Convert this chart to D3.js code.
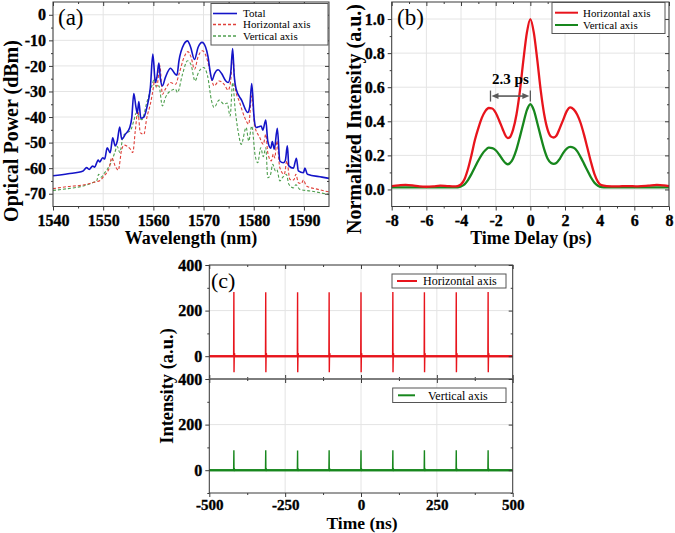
<!DOCTYPE html>
<html><head><meta charset="utf-8">
<script src="https://cdn.jsdelivr.net/npm/d3@7"></script>
<style>body{margin:0;background:#fff}svg{display:block}</style>
</head><body>
<svg id="chart" width="675" height="533"></svg>
<script>
// ---------------- DATA ----------------
// (a) optical spectra: [wavelength nm, power dBm]
const spectrumTotal = [[1540,-63],[1543,-62.2],[1546,-61.1],[1546.7,-59.8],[1547.2,-60.5],[1547.9,-59.2],[1548.3,-59.6],[1548.7,-57.9],[1549,-56.8],[1549.3,-57.6],[1549.9,-55.9],[1550.3,-56.4],[1550.8,-52],[1551.4,-54],[1551.9,-48.1],[1552.4,-51.3],[1552.8,-49.5],[1553.3,-43.9],[1553.7,-48.7],[1554.4,-46.8],[1555.3,-44.1],[1555.7,-40.2],[1556.1,-30.8],[1556.5,-35.7],[1556.8,-38.5],[1557.1,-33.9],[1557.5,-40.5],[1558.1,-40],[1558.7,-36.3],[1559.4,-28.5],[1559.9,-15.4],[1560.4,-26.5],[1560.7,-24.5],[1561.1,-18.9],[1561.4,-25],[1561.8,-27.8],[1562.4,-24.5],[1563.4,-20.9],[1564.4,-23.3],[1564.7,-23.6],[1565.1,-18],[1566.1,-11.5],[1566.8,-10.2],[1567.4,-12.5],[1568.2,-17.5],[1568.9,-12.8],[1569.7,-10.8],[1570.4,-12.6],[1570.9,-16.5],[1571.3,-22],[1571.7,-25.6],[1572.2,-23],[1572.9,-21.5],[1573.6,-23],[1574.4,-25.8],[1574.9,-26.5],[1575.4,-23],[1575.8,-13.2],[1576.1,-23.5],[1576.5,-29.1],[1577.6,-33.5],[1578.8,-38.2],[1579.2,-36],[1579.6,-26.9],[1580.1,-40.9],[1580.5,-44.1],[1581,-43.8],[1581.5,-43.5],[1581.8,-45.2],[1582.4,-41.2],[1582.8,-49.4],[1583.4,-52.2],[1583.7,-49.6],[1584.1,-52.6],[1584.7,-44.4],[1585.2,-57.2],[1585.9,-57.9],[1586.3,-57],[1586.7,-51.3],[1587,-59.1],[1587.9,-60],[1588.5,-56.1],[1588.9,-61.1],[1589.9,-61.8],[1590.2,-60],[1590.7,-62.4],[1593.6,-63.5],[1595,-64]];
const spectrumHorizontal = [[1540,-68],[1543,-67.2],[1546,-66.6],[1548,-65.6],[1549.4,-64.8],[1550.2,-63],[1550.7,-61.8],[1551.2,-60],[1551.7,-55.9],[1552.4,-59.2],[1553,-60.8],[1553.7,-52.6],[1554.2,-51],[1554.7,-51.3],[1555.4,-52.5],[1555.9,-53.9],[1556.4,-45.4],[1556.9,-37.6],[1557.4,-46.1],[1558.1,-46.8],[1558.7,-40.2],[1559.4,-35],[1560,-28.5],[1560.3,-24.6],[1560.7,-28],[1561.3,-20],[1561.8,-31.1],[1562.4,-29.1],[1563.4,-26.5],[1564.4,-27.2],[1565.1,-23.3],[1566.1,-16.7],[1566.9,-14.4],[1567.5,-16.5],[1568.2,-21.3],[1568.9,-16.5],[1569.8,-14.1],[1570.8,-18],[1571.6,-25.2],[1572.1,-27.8],[1573.1,-25.9],[1574.1,-27.2],[1574.9,-29.5],[1575.4,-26],[1575.8,-15.4],[1576.3,-28.5],[1577.2,-34.3],[1578.2,-40.2],[1579,-42.8],[1579.6,-31.7],[1580.2,-43.5],[1581.2,-48],[1581.9,-50.7],[1582.4,-46.8],[1582.8,-53.9],[1583.5,-57.2],[1583.9,-54.5],[1584.2,-56],[1584.6,-49.4],[1585.2,-59.8],[1586.1,-62.4],[1586.6,-57.2],[1587.2,-64.4],[1588,-64.6],[1588.4,-62.4],[1588.9,-65.7],[1589.5,-66],[1589.9,-64.6],[1590.5,-67],[1592.8,-68.3],[1595,-69.3]];
const spectrumVertical = [[1540,-68.7],[1543,-68],[1546,-67],[1548,-65.6],[1548.7,-65],[1549.1,-62.4],[1549.6,-63.5],[1550.2,-62],[1550.8,-60.5],[1551.7,-57.2],[1552.3,-54],[1552.8,-51.5],[1553.3,-53.9],[1554,-47.4],[1554.7,-46.1],[1555.4,-45.4],[1556.1,-41.5],[1556.6,-38.3],[1557.1,-40],[1557.7,-41],[1558.7,-34.3],[1559.7,-27.8],[1560.2,-25.2],[1560.6,-28.5],[1561.1,-27.8],[1561.8,-35.7],[1562.4,-32.4],[1563.4,-29.8],[1564.4,-29.1],[1564.8,-30.4],[1565.8,-23.3],[1566.8,-18],[1567.5,-19.5],[1568.3,-25.9],[1569,-22.5],[1570,-20.6],[1570.8,-23.9],[1571.6,-33.7],[1572.1,-36.3],[1573.1,-33.4],[1574.1,-35],[1574.7,-34.5],[1575.3,-39.6],[1575.8,-26.5],[1576.3,-37],[1577,-46.8],[1577.5,-50.7],[1578.5,-44.1],[1579,-49.4],[1579.6,-43.5],[1580.3,-55.2],[1580.8,-57.9],[1581.4,-52],[1581.9,-55.5],[1582.4,-52],[1582.8,-63.7],[1583.3,-62.8],[1583.8,-58.5],[1584.3,-61],[1584.6,-60.5],[1585.2,-65],[1585.8,-63.5],[1586.5,-62.4],[1587,-66.3],[1587.9,-67.7],[1588.4,-66.5],[1589.2,-68.3],[1591.5,-69],[1595,-70.3]];

// (b) autocorrelation traces: [delay ps, normalized intensity]
const acfHorizontal = [[-8,0.02],[-7.6,0.024],[-7.2,0.027],[-6.8,0.024],[-6.4,0.018],[-6,0.016],[-5.6,0.018],[-5.2,0.022],[-4.8,0.02],[-4.4,0.018],[-4.2,0.02],[-4,0.03],[-3.8,0.06],[-3.6,0.12],[-3.4,0.2],[-3.2,0.29],[-3,0.36],[-2.8,0.42],[-2.6,0.46],[-2.4,0.478],[-2.2,0.475],[-2,0.45],[-1.8,0.405],[-1.6,0.355],[-1.4,0.31],[-1.3,0.302],[-1.2,0.305],[-1,0.35],[-0.8,0.44],[-0.6,0.58],[-0.4,0.76],[-0.2,0.92],[0,1.0],[0.2,0.92],[0.4,0.76],[0.6,0.58],[0.8,0.44],[1,0.35],[1.2,0.31],[1.35,0.305],[1.5,0.315],[1.7,0.36],[1.9,0.41],[2.1,0.46],[2.3,0.482],[2.5,0.47],[2.7,0.44],[2.9,0.39],[3.1,0.32],[3.3,0.24],[3.5,0.16],[3.7,0.09],[3.9,0.045],[4.1,0.025],[4.4,0.02],[5,0.018],[5.6,0.02],[6.2,0.018],[6.8,0.022],[7.3,0.027],[7.7,0.024],[8,0.02]];
const acfVertical = [[-8,0.012],[-6,0.012],[-4.2,0.012],[-4,0.018],[-3.8,0.03],[-3.6,0.055],[-3.4,0.09],[-3.2,0.13],[-3,0.17],[-2.8,0.205],[-2.6,0.23],[-2.4,0.245],[-2.2,0.243],[-2,0.23],[-1.8,0.205],[-1.6,0.175],[-1.4,0.152],[-1.3,0.148],[-1.2,0.152],[-1,0.18],[-0.8,0.235],[-0.6,0.31],[-0.4,0.39],[-0.2,0.465],[0,0.5],[0.2,0.465],[0.4,0.39],[0.6,0.31],[0.8,0.235],[1,0.18],[1.2,0.155],[1.35,0.15],[1.5,0.155],[1.7,0.18],[1.9,0.215],[2.1,0.24],[2.3,0.25],[2.5,0.245],[2.7,0.225],[2.9,0.19],[3.1,0.15],[3.3,0.11],[3.5,0.07],[3.7,0.04],[3.9,0.022],[4.1,0.014],[4.4,0.012],[6,0.012],[8,0.012]];
const acfSpacing = [-2.3, 0];          // marked peak spacing (ps)
const acfSpacingLabel = "2.3 ps";
const acfSpacingLevel = 0.548;         // intensity level of the arrow

// (c) pulse trains
const timeSpan = [-500, 500];
const pulseTimes = [-419, -314, -209, -105, 0, 105, 209, 314, 419];
const pulsePeakHorizontal = [282, 280, 280, 281, 281, 282, 281, 281, 282];
const pulseDipHorizontal = [-70, -70, -70, -70, -70, -70, -70, -70, -70];
const pulsePeakVertical = [87, 87, 86, 87, 87, 87, 87, 87, 87];
const pulseDipVertical = [-4, -4, -4, -4, -4, -4, -4, -4, -4];

// ticks
const ticksA_x = [1540, 1550, 1560, 1570, 1580, 1590];
const ticksA_xMinor = [1545, 1555, 1565, 1575, 1585];
const ticksA_y = [0, -10, -20, -30, -40, -50, -60, -70];
const ticksA_yMinor = [-5, -15, -25, -35, -45, -55, -65];
const ticksB_x = [-8, -6, -4, -2, 0, 2, 4, 6, 8];
const ticksB_xMinor = [-7, -5, -3, -1, 1, 3, 5, 7];
const ticksB_y = [0, 0.2, 0.4, 0.6, 0.8, 1.0];
const ticksB_yMinor = [0.1, 0.3, 0.5, 0.7, 0.9];
const ticksC_x = [-500, -250, 0, 250, 500];
const ticksC_xMinor = [-375, -125, 125, 375];
const ticksC_y = [0, 200, 400];
const ticksC_yMinor = [-100, 100, 300];

// ---------------- DRAWING ----------------
const svg = d3.select("#chart");
const SERIF = "'Liberation Serif','Times New Roman',serif";
const FRAME = "#3a3a3a";
const GRID = "#e4e4e4";
const C_BLUE = "#1414c8", C_RED = "#e8141c", C_GREEN = "#17871d";
const C_RED_D = "#e0403a", C_GREEN_D = "#4f9f4f";

function grid(x, y, xs, ys) {
  const [xa, xb] = x.range(), [ya, yb] = y.range();
  const g = svg.append("g");
  g.selectAll(null).data(xs).join("line")
    .attr("x1", d => x(d)).attr("x2", d => x(d)).attr("y1", ya).attr("y2", yb)
    .attr("stroke", GRID).attr("stroke-width", 1);
  g.selectAll(null).data(ys).join("line")
    .attr("y1", d => y(d)).attr("y2", d => y(d)).attr("x1", xa).attr("x2", xb)
    .attr("stroke", GRID).attr("stroke-width", 1);
}

function ticks(axisFn, scale, values, size, tx, ty, fmt, fs, pad) {
  const a = axisFn(scale).tickValues(values).tickSize(size).tickSizeOuter(0)
    .tickPadding(pad || 3).tickFormat(fmt || (() => ""));
  const g = svg.append("g").attr("transform", `translate(${tx},${ty})`).call(a);
  g.attr("font-family", null).attr("font-size", null);
  g.select(".domain").remove();
  g.selectAll("line").attr("stroke", FRAME).attr("stroke-width", 1);
  g.selectAll("text").style("font-family", SERIF).style("font-weight", "bold")
    .style("font-size", (fs || 16) + "px").attr("fill", "#000")
    .attr("stroke", "#000").attr("stroke-width", 0.35);
  return g;
}

function frame(x, y) {
  const [xa, xb] = x.range(), [ya, yb] = y.range();
  svg.append("rect").attr("x", xa).attr("y", yb).attr("width", xb - xa).attr("height", ya - yb)
    .attr("fill", "none").attr("stroke", FRAME).attr("stroke-width", 1);
}

function fullAxes(x, y, o) {
  const [xa, xb] = x.range(), [ya, yb] = y.range();
  if (o.bottomLabels) {
    ticks(d3.axisBottom, x, o.xMajor, 4, 0, ya, d => String(d), o.xfs || 16, o.xpad || 4.6);
    ticks(d3.axisBottom, x, o.xMinor, 2, 0, ya);
  } else {
    ticks(d3.axisBottom, x, o.xMajor, -4, 0, ya);
    ticks(d3.axisBottom, x, o.xMinor, -2, 0, ya);
  }
  ticks(d3.axisTop, x, o.xMajor, -4, 0, yb);
  ticks(d3.axisTop, x, o.xMinor, -2, 0, yb);
  ticks(d3.axisLeft, y, o.yMajor, 4, xa, 0, o.yFmt, 16, 3);
  ticks(d3.axisLeft, y, o.yMinor, 2, xa, 0);
  ticks(d3.axisRight, y, o.yMajor, -4, xb, 0);
  ticks(d3.axisRight, y, o.yMinor, -2, xb, 0);
  frame(x, y);
}

function legend(x0, y0, w, h, lx0, lx1, tx, fs, items) {
  const g = svg.append("g");
  g.append("rect").attr("x", x0).attr("y", y0).attr("width", w).attr("height", h)
    .attr("fill", "#fff").attr("stroke", "#555").attr("stroke-width", 1);
  items.forEach(it => {
    g.append("line").attr("x1", lx0).attr("x2", lx1).attr("y1", it.y).attr("y2", it.y)
      .attr("stroke", it.color).attr("stroke-width", it.sw).attr("stroke-dasharray", it.dash || null);
    g.append("text").attr("x", it.tx || tx).attr("y", it.y).attr("dy", "0.35em")
      .attr("font-family", SERIF).attr("font-size", fs).attr("fill", "#000").text(it.label);
  });
}

function title(text, x, y, fs, rotate) {
  svg.append("text").attr("transform", `translate(${x},${y})` + (rotate ? " rotate(-90)" : ""))
    .attr("text-anchor", "middle").attr("font-family", SERIF).attr("font-weight", "bold")
    .attr("font-size", fs).attr("fill", "#000").text(text);
}
function panelLabel(text, x, y, fs) {
  svg.append("text").attr("x", x).attr("y", y).attr("font-family", SERIF)
    .attr("font-size", fs).attr("fill", "#000").text(text);
}

// ===== Panel (a) =====
{
  const x = d3.scaleLinear().domain([1540, 1595]).range([53, 329]);
  const y = d3.scaleLinear().domain([-75, 5]).range([206.5, 2]);
  grid(x, y, ticksA_x, ticksA_y);
  const line = d3.line().x(d => x(d[0])).y(d => y(d[1])).curve(d3.curveMonotoneX);
  svg.append("path").datum(spectrumVertical).attr("d", line).attr("fill", "none")
    .attr("stroke", C_GREEN_D).attr("stroke-width", 1.1).attr("stroke-dasharray", "3,2");
  svg.append("path").datum(spectrumHorizontal).attr("d", line).attr("fill", "none")
    .attr("stroke", C_RED_D).attr("stroke-width", 1.1).attr("stroke-dasharray", "3,2");
  svg.append("path").datum(spectrumTotal).attr("d", line).attr("fill", "none")
    .attr("stroke", C_BLUE).attr("stroke-width", 1.6).attr("stroke-linejoin", "round");
  fullAxes(x, y, {xMajor: ticksA_x, xMinor: ticksA_xMinor, yMajor: ticksA_y, yMinor: ticksA_yMinor,
    bottomLabels: true, yFmt: d => String(d)});
  legend(211, 3.5, 117, 41.5, 213, 237, 243, 11, [
    {label: "Total", color: C_BLUE, sw: 1.6, y: 13.5},
    {label: "Horizontal axis", color: C_RED_D, sw: 1.3, dash: "3,2", y: 24.5},
    {label: "Vertical axis", color: C_GREEN_D, sw: 1.3, dash: "3,2", y: 36}
  ]);
  panelLabel("(a)", 58, 25, 23);
  title("Wavelength (nm)", 191, 244, 18, false);
  title("Optical Power (dBm)", 17.5, 131, 20, true);
}

// ===== Panel (b) =====
{
  const x = d3.scaleLinear().domain([-8, 8]).range([391.7, 669]);
  const y = d3.scaleLinear().domain([-0.1, 1.1]).range([206.5, 2]);
  grid(x, y, ticksB_x, ticksB_y);
  const line = d3.line().x(d => x(d[0])).y(d => y(d[1])).curve(d3.curveMonotoneX);
  svg.append("path").datum(acfVertical).attr("d", line).attr("fill", "none")
    .attr("stroke", C_GREEN).attr("stroke-width", 2.3);
  svg.append("path").datum(acfHorizontal).attr("d", line).attr("fill", "none")
    .attr("stroke", C_RED).attr("stroke-width", 2.3);
  const ax0 = x(acfSpacing[0]), ax1 = x(acfSpacing[1]), ay = y(acfSpacingLevel);
  const ac = "#5a5a5a";
  acfSpacing.forEach(v => svg.append("line").attr("x1", x(v)).attr("x2", x(v))
    .attr("y1", ay - 5.5).attr("y2", ay + 5.5).attr("stroke", ac).attr("stroke-width", 1.3));
  svg.append("line").attr("x1", ax0 + 5).attr("x2", ax1 - 5).attr("y1", ay).attr("y2", ay)
    .attr("stroke", ac).attr("stroke-width", 1.6);
  svg.append("path").attr("d", `M${ax0+1},${ay} l7,-3 l0,6 z M${ax1-1},${ay} l-7,-3 l0,6 z`).attr("fill", ac);
  svg.append("text").attr("x", (ax0 + ax1) / 2).attr("y", 83.5).attr("text-anchor", "middle")
    .attr("font-family", SERIF).attr("font-weight", "bold").attr("font-size", 15).text(acfSpacingLabel);
  fullAxes(x, y, {xMajor: ticksB_x, xMinor: ticksB_xMinor, yMajor: ticksB_y, yMinor: ticksB_yMinor,
    bottomLabels: true, yFmt: d3.format(".1f")});
  legend(552, 2.5, 113, 31, 555, 578, 583, 11, [
    {label: "Horizontal axis", color: C_RED, sw: 2, y: 12.7},
    {label: "Vertical axis", color: C_GREEN, sw: 2, y: 25}
  ]);
  panelLabel("(b)", 397, 25, 23);
  title("Time Delay (ps)", 531, 244, 18, false);
  title("Normalized Intensity (a.u.)", 361, 119, 20, true);
}

// ===== Panel (c) =====
{
  const x = d3.scaleLinear().domain(timeSpan).range([209.3, 512.7]);
  const yTop = d3.scaleLinear().domain([-100, 400]).range([379, 265]);
  const yBot = d3.scaleLinear().domain([-100, 400]).range([493, 379]);
  function trace(peaks, dips) {
    const pts = [[timeSpan[0], 0]];
    pulseTimes.forEach((t, i) => {
      pts.push([t - 0.8, 0], [t, peaks[i]], [t + 0.5, dips[i]], [t + 1.2, 0], [t + 2, peaks[i] * 0.05], [t + 3, 0]);
    });
    pts.push([timeSpan[1], 0]);
    return pts;
  }
  function sub(y, peaks, dips, color, bottomLabels) {
    grid(x, y, ticksC_x, ticksC_y);
    const line = d3.line().x(d => x(d[0])).y(d => y(d[1]));
    svg.append("line").attr("x1", x(timeSpan[0])).attr("x2", x(timeSpan[1]))
      .attr("y1", y(0)).attr("y2", y(0)).attr("stroke", color).attr("stroke-width", 2.6).attr("opacity", 0.9);
    svg.append("path").datum(trace(peaks, dips)).attr("d", line).attr("fill", "none")
      .attr("stroke", color).attr("stroke-width", 1.4);
    fullAxes(x, y, {xMajor: ticksC_x, xMinor: ticksC_xMinor, yMajor: ticksC_y, yMinor: ticksC_yMinor,
      bottomLabels, xfs: 15, xpad: 2.35, yFmt: d => String(d)});
  }
  sub(yTop, pulsePeakHorizontal, pulseDipHorizontal, C_RED, false);
  sub(yBot, pulsePeakVertical, pulseDipVertical, C_GREEN, true);
  legend(392, 274, 114, 14, 397, 417, 423, 12, [
    {label: "Horizontal axis", color: C_RED, sw: 2, y: 281}
  ]);
  legend(392.7, 388, 113.3, 14.5, 398, 415, 428, 12, [
    {label: "Vertical axis", color: C_GREEN, sw: 2, y: 395.3}
  ]);
  panelLabel("(c)", 211, 288, 22);
  title("Time (ns)", 362, 529.2, 17.5, false);
  title("Intensity (a.u.)", 173, 386, 18.5, true);
}
</script>
</body></html>
